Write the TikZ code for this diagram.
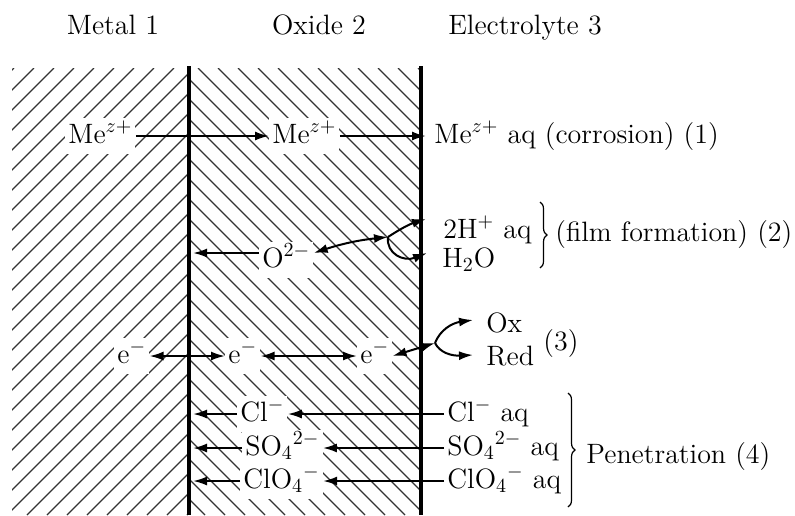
\documentclass[tikz,border=0pt]{standalone}
\usepackage{tikz}
\usetikzlibrary{arrows.meta,positioning,calc,decorations.pathreplacing}
\tikzset{
  lbl/.style={inner sep=1.5pt, fill=white, text height=11pt, text depth=4pt, anchor=base west},
  side/.style={inner sep=1pt, anchor=base west},
  colhead/.style={inner sep=0pt, anchor=base},
  wall/.style={line width=2.4pt},
  hatch/.style={line width=0.55pt, black!80},
  flow/.style={line width=1pt, -{Latex[length=7pt,width=4.5pt]}},
  flowtwo/.style={line width=1pt, {Latex[length=7pt,width=4.5pt]}-{Latex[length=7pt,width=4.5pt]}},
  brc/.style={decorate, decoration={brace, amplitude=3.5pt}, line width=0.6pt},
}

\begin{document}
\begin{tikzpicture}[x=0.5pt, y=-0.5pt, font=\fontsize{14}{17}\selectfont]
\useasboundingbox (0,0) rectangle (795,515);
% --- hatching
\begin{scope}
  \clip (12,68) rectangle (189,515);
  \foreach \c in {14,34,...,660} \draw[hatch] (\c,68) -- ++(-447,447);
\end{scope}
\begin{scope}
  \clip (189,68) rectangle (421,515);
  \foreach \c in {-262,-242,...,420} \draw[hatch] (\c,68) -- ++(447,447);
\end{scope}
% --- walls
\coordinate (wl) at (189,66);
\coordinate (wlb) at (189,515);
\coordinate (wr) at (421,66);
\coordinate (wrb) at (421,515);
\coordinate (wlf) at (193,0);
\coordinate (wrf) at (426,0);
\draw[wall] (wl) -- (wlb);
\draw[wall] (wr) -- (wrb);
% --- column heads
\node[colhead] (hm) at (113,34) {Metal 1};
\node[colhead] (ho) at (319,34) {Oxide 2};
\node[colhead] (he) at (525,34) {Electrolyte 3};
% --- (1) corrosion
\node[lbl] (me1) at (65,143) {Me$^{z+}$};
\node[lbl] (me2) at (269,143) {Me$^{z+}$};
\node[side] (me3) at (432,143) {Me$^{z+}$ aq (corrosion) (1)};
\draw[flow] (me1) -- (me2);
\draw[flow] (me2) -- (me2 -| wrf);
% --- (2) film formation
\node[side] (hp) at (441,238) {2H$^+$ aq};
\node[side] (hw) at (440,267) {H$_2$O};
\node[side] (film) at (553,241) {(film formation) (2)};
\node[lbl] (ox2) at (259,267) {O$^{2-}$};
\coordinate (o2l) at ($(ox2.west)+(0,-7)$);
\coordinate (o2r) at ($(ox2.east)+(0,-7)$);
\coordinate (j1) at (388,237);
\coordinate (hpt) at (426,219);
\coordinate (hwt) at (427,253);
\draw[flow] (o2l) -- (o2l -| wlf);
\draw[flowtwo] (o2r) to[bend left=6] (j1);
\draw[flow] (j1) to[bend left=8] (hpt);
\draw[flow] (j1) .. controls (386,254) and (404,262) .. (hwt);
\draw[brc] (540,202) -- (540,268);
% --- (3) electrons, redox
\node[lbl] (e1) at (114,363) {e$^-$};
\node[lbl] (e2) at (225,363) {e$^-$};
\node[lbl] (e3) at (357,363) {e$^-$};
\node[side] (oxn) at (484,332) {Ox};
\node[side] (red) at (484,365) {Red};
\node[side] (n3) at (541,350) {(3)};
\coordinate (j2) at (435,343);
\draw[flowtwo] (e1) -- (e2);
\draw[flowtwo] (e2) -- (e3);
\draw[flowtwo] (e3.east) -- (j2);
\draw[flow] (j2) .. controls (440,330) and (452,323) .. (473,320);
\draw[flow] (j2) .. controls (440,353) and (452,356) .. (473,355);
% --- (4) penetration
\node[lbl] (cl1) at (237,421) {Cl$^-$};
\node[lbl] (so1) at (242,455) {SO$_4{}^{2-}$};
\node[lbl] (clo1) at (240,488) {ClO$_4{}^-$};
\node[lbl] (cl2) at (444,421) {Cl$^-$ aq};
\node[lbl] (so2) at (444,455) {SO$_4{}^{2-}$ aq};
\node[lbl] (clo2) at (444,488) {ClO$_4{}^-$ aq};
\node[side] (pen) at (584,463) {Penetration (4)};
\foreach \n in {cl,so,clo}{
  \draw[flow] (\n2) -- (\n1);
  \draw[flow] (\n1) -- (\n1 -| wlf);
}
\draw[brc] (568,393) -- (568,507);
\end{tikzpicture}
\end{document}
